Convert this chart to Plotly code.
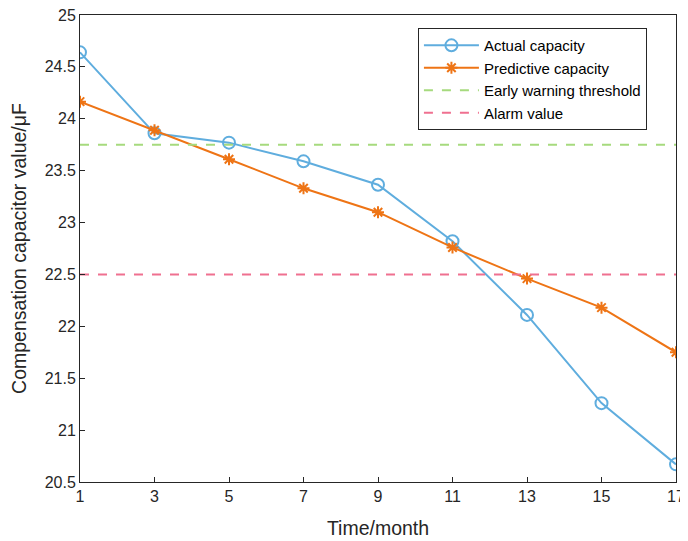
import plotly.graph_objects as go

months = [1, 3, 5, 7, 9, 11, 13, 15, 17]
actual = [24.64, 23.86, 23.77, 23.59, 23.365, 22.82, 22.11, 21.26, 20.67]
predicted = [24.165, 23.89, 23.61, 23.33, 23.10, 22.76, 22.46, 22.18, 21.75]
warning_threshold = 23.75
alarm_value = 22.5
x_ticks = [1, 3, 5, 7, 9, 11, 13, 15, 17]
y_ticks = [20.5, 21, 21.5, 22, 22.5, 23, 23.5, 24, 24.5, 25]

blue = "#5FADDE"
orange = "#EE7415"
green = "#A6DA7E"
pink = "#EF7090"
axis_color = "#262626"

fig = go.Figure()
fig.add_trace(go.Scatter(
    x=months, y=actual, name="Actual capacity", mode="lines+markers",
    line=dict(color=blue, width=2),
    marker=dict(symbol="circle-open", size=12, color=blue, line=dict(width=2, color=blue)),
))
fig.add_trace(go.Scatter(
    x=months, y=predicted, name="Predictive capacity", mode="lines+markers",
    line=dict(color=orange, width=2),
    marker=dict(symbol="asterisk-open", size=10, color=orange, line=dict(width=2, color=orange)),
))
fig.add_trace(go.Scatter(
    x=[months[0], months[-1]], y=[warning_threshold] * 2, name="Early warning threshold",
    mode="lines", line=dict(color=green, width=2, dash="dash"),
))
fig.add_trace(go.Scatter(
    x=[months[0], months[-1]], y=[alarm_value] * 2, name="Alarm value",
    mode="lines", line=dict(color=pink, width=2, dash="dash"),
))

axis_common = dict(
    showgrid=False, zeroline=False, showline=True, linecolor=axis_color, linewidth=1,
    mirror=True, ticks="inside", ticklen=5, tickcolor=axis_color, automargin=False,
    ticklabeloverflow="allow", tickfont=dict(size=16, color=axis_color),
)
fig.update_xaxes(range=[1, 17], tickvals=x_ticks, ticktext=[str(v) for v in x_ticks],
                 title=dict(text="Time/month", font=dict(size=19.5, color=axis_color), standoff=17),
                 **axis_common)
fig.update_yaxes(range=[20.5, 25], tickvals=y_ticks, ticktext=[f"{v:g}" for v in y_ticks],
                 title=dict(text="Compensation capacitor value/μF", font=dict(size=19.5, color=axis_color), standoff=16),
                 **axis_common)

# The page body has an 8px margin, so the figure is sized and offset to compensate.
fig.update_layout(
    width=680, height=533,
    margin=dict(l=72, r=12, t=7, b=59),
    plot_bgcolor="white", paper_bgcolor="white",
    font=dict(family="Liberation Sans, Arial, sans-serif", color=axis_color),
    legend=dict(x=0.567, y=0.972, xanchor="left", yanchor="top",
                bgcolor="white", bordercolor=axis_color, borderwidth=1,
                font=dict(size=15, color="#000000"), tracegroupgap=0,
                itemwidth=55),
    showlegend=True,
)

fig.write_html("out.html")
